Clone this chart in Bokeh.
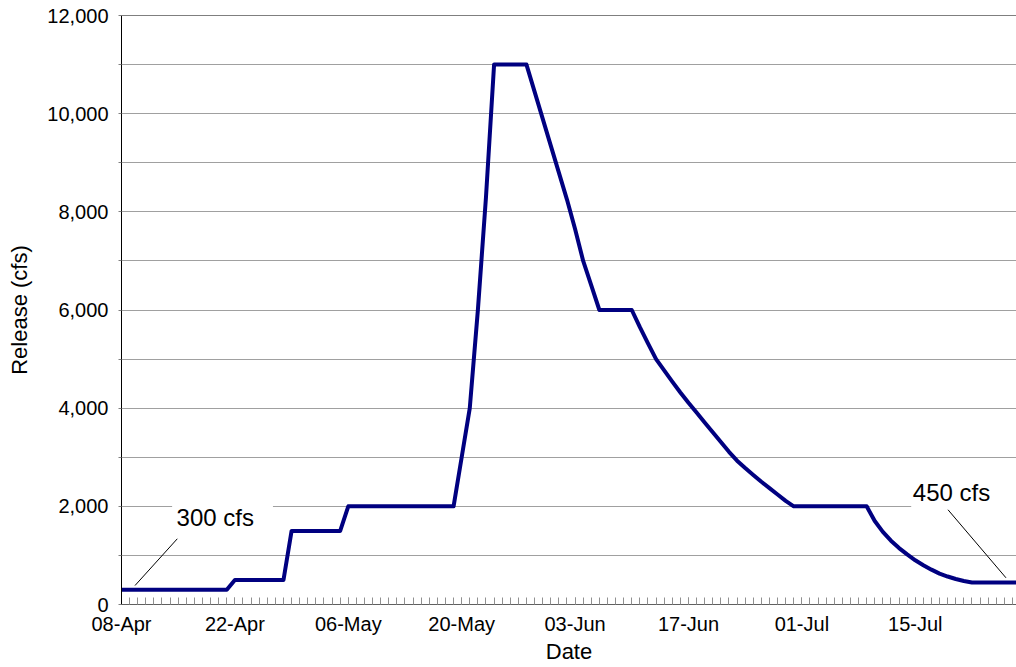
from bokeh.plotting import figure
from bokeh.models import (Range1d, FixedTicker, NumeralTickFormatter, Label,
                          BoxAnnotation, Span)
from bokeh.embed import file_html
from bokeh.resources import INLINE

# ---- data (days since 08-Apr, release in cfs) ----
day = [0, 13, 14, 20, 21, 27, 28, 41, 42, 43, 44, 45, 46, 50,
       51, 52, 53, 54, 55, 56, 57, 58, 59, 63,
       64, 65, 66, 67, 68, 69, 70, 71, 72, 73, 74, 75, 76, 77, 78, 79,
       80, 81, 82, 83, 92,
       93, 94, 95, 96, 97, 98, 99, 100, 101, 102, 103, 104, 105, 111]
release = [300, 300, 500, 500, 1500, 1500, 2000, 2000, 3000, 4000, 6000, 8300, 11000, 11000,
           10450, 9900, 9350, 8800, 8250, 7650, 7000, 6500, 6000, 6000,
           5650, 5320, 5000, 4770, 4540, 4320, 4110, 3910, 3710, 3510, 3310, 3110, 2930, 2780, 2640, 2500,
           2370, 2240, 2110, 2000, 2000,
           1700, 1480, 1300, 1150, 1020, 900, 800, 710, 630, 570, 520, 480, 450, 450]

tick_days = [0, 14, 28, 42, 56, 70, 84, 98]
tick_labels = ["08-Apr", "22-Apr", "06-May", "20-May", "03-Jun", "17-Jun", "01-Jul", "15-Jul"]
y_major = [0, 2000, 4000, 6000, 8000, 10000, 12000]
y_minor = [1000, 3000, 5000, 7000, 9000, 11000]

FONT = "Liberation Sans"

p = figure(width=1016, height=667, output_backend="svg", toolbar_location=None,
           x_range=Range1d(0, 110.5), y_range=Range1d(0, 12000),
           min_border_left=121, min_border_right=0, min_border_top=15,
           min_border_bottom=63)
p.outline_line_color = None
p.background_fill_color = "white"

# grid
p.xgrid.grid_line_color = None
p.ygrid.grid_line_color = "#a0a0a0"
p.ygrid.minor_grid_line_color = "#a0a0a0"

# y axis
p.yaxis.ticker = FixedTicker(ticks=y_major, minor_ticks=y_minor)
p.yaxis.formatter = NumeralTickFormatter(format="0,0")
p.yaxis.axis_line_color = "black"
p.yaxis.major_tick_line_color = "#808080"
p.yaxis.minor_tick_line_color = "#808080"
p.yaxis.major_tick_out = 3
p.yaxis.major_tick_in = 0
p.yaxis.minor_tick_out = 3
p.yaxis.minor_tick_in = 0
p.yaxis.major_label_standoff = 10
p.yaxis.major_label_text_font = FONT
p.yaxis.major_label_text_font_size = "20px"
p.yaxis.major_label_text_color = "black"
p.yaxis.axis_label = "Release (cfs)"
p.yaxis.axis_label_text_font = FONT
p.yaxis.axis_label_text_font_size = "22px"
p.yaxis.axis_label_text_font_style = "normal"
p.yaxis.axis_label_text_color = "black"
p.yaxis.axis_label_standoff = 12

# x axis
p.xaxis.ticker = FixedTicker(ticks=tick_days, minor_ticks=list(range(0, 111)))
p.xaxis.major_label_overrides = {d: l for d, l in zip(tick_days, tick_labels)}
p.xaxis.axis_line_color = "#606060"
p.xaxis.major_tick_line_color = "#909090"
p.xaxis.minor_tick_line_color = "#909090"
p.xaxis.major_tick_in = 7
p.xaxis.major_tick_out = 0
p.xaxis.minor_tick_in = 7
p.xaxis.minor_tick_out = 0
p.xaxis.major_label_standoff = 8
p.xaxis.major_label_text_font = FONT
p.xaxis.major_label_text_font_size = "20px"
p.xaxis.major_label_text_color = "black"
p.xaxis.axis_label = "Date"
p.xaxis.axis_label_text_font = FONT
p.xaxis.axis_label_text_font_size = "22px"
p.xaxis.axis_label_text_font_style = "normal"
p.xaxis.axis_label_text_color = "black"
p.xaxis.axis_label_standoff = 1

# top border line
p.add_layout(Span(location=12000, dimension="width", line_color="black", line_width=1))

# data line
p.line(day, release, line_color="#000080", line_width=4, line_join="round")

# label boxes (hide grid line behind text)
p.add_layout(BoxAnnotation(left=6.25, right=18.7, bottom=1930, top=2070,
                           fill_color="white", fill_alpha=1, line_color=None))
p.add_layout(BoxAnnotation(left=97.5, right=110.5, bottom=1930, top=2070,
                           fill_color="white", fill_alpha=1, line_color=None))

# leader lines
p.line([1.67, 6.89], [387, 1339], line_color="black", line_width=1)
p.line([101.7, 109.2], [1997, 544], line_color="black", line_width=1)

p.add_layout(Label(x=6.8, y=1766, text="300 cfs", text_font=FONT,
                   text_font_size="24px", text_color="black",
                   text_baseline="alphabetic"))
p.add_layout(Label(x=97.7, y=2276, text="450 cfs", text_font=FONT,
                   text_font_size="24px", text_color="black",
                   text_baseline="alphabetic"))

open("out.html", "w").write(file_html(p, INLINE))
